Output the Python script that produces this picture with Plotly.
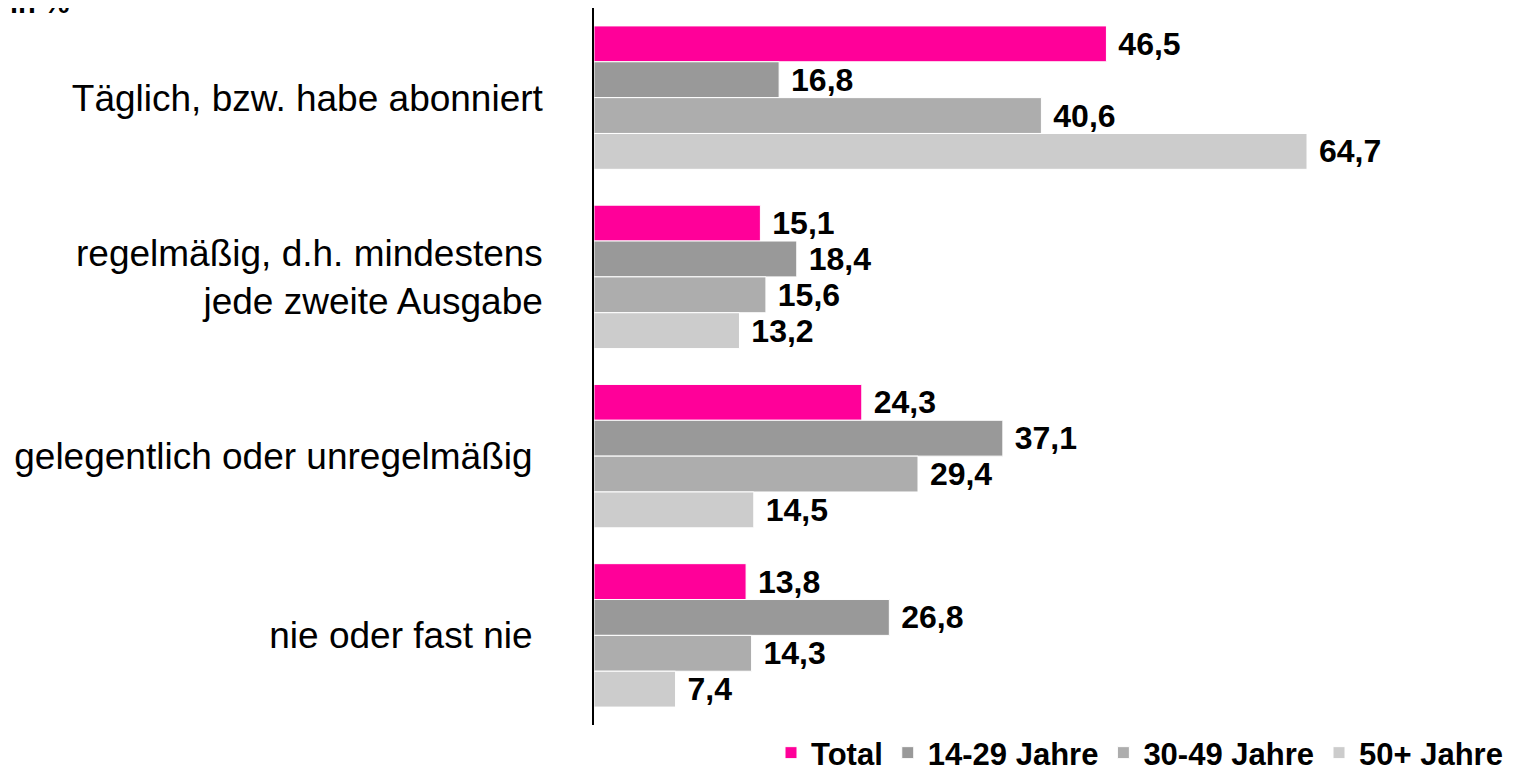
import plotly.graph_objects as go

categories = [
    "Täglich, bzw. habe abonniert",
    "regelmäßig, d.h. mindestens<br>jede zweite Ausgabe",
    "gelegentlich oder unregelmäßig\u00a0",
    "nie oder fast nie\u00a0",
]
series_names = ["Total", "14-29 Jahre", "30-49 Jahre", "50+ Jahre"]
total = [46.5, 15.1, 24.3, 13.8]
age_14_29 = [16.8, 18.4, 37.1, 26.8]
age_30_49 = [40.6, 15.6, 29.4, 14.3]
age_50_plus = [64.7, 13.2, 14.5, 7.4]
colors = ["#FF0099", "#999999", "#ADADAD", "#CCCCCC"]

# page body has an 8px margin; figure is sized to fit the window
W, H = 1511, 763
L, R, T, B = 586, 19, 0, 46
plot_w = W - L - R
plot_h = H - T - B
xmax = 64.7 * plot_w / (1307 - 594)

fig = go.Figure()
for name, vals, col in zip(series_names, [total, age_14_29, age_30_49, age_50_plus], colors):
    fig.add_trace(go.Bar(
        y=categories, x=vals, name=name, orientation="h",
        marker=dict(color=col, line=dict(color="white", width=1)),
        text=["\u00a0" + f"{v:.1f}".replace(".", ",") for v in vals],
        textposition="outside", cliponaxis=False, constraintext="none",
        textfont=dict(family="Liberation Sans, Arial", size=32, color="black", weight="bold"),
    ))

fig.update_layout(
    width=W, height=H,
    margin=dict(l=L, r=R, t=T, b=B, autoexpand=False),
    plot_bgcolor="white", paper_bgcolor="white",
    barmode="group", bargap=0.2, bargroupgap=0.0,
    font=dict(family="Liberation Sans, Arial", color="black"),
    showlegend=True,
    legend=dict(
        orientation="h", xref="container", yref="container",
        x=763 / W, xanchor="left", y=1 - 745 / H, yanchor="middle",
        font=dict(size=31, weight="bold", color="black"),
        traceorder="normal",
    ),
    xaxis=dict(range=[0, xmax], visible=False, showgrid=False, automargin=False),
    yaxis=dict(
        autorange="reversed", showline=True, linecolor="black", linewidth=1.5,
        showgrid=False, ticks="", ticklabelstandoff=42, automargin=False,
        tickfont=dict(size=37, color="black"),
    ),
)
fig.add_annotation(
    text="<b>in %</b>", xref="paper", yref="paper",
    x=(0 - L) / plot_w, xanchor="left", y=1 - 13 / plot_h, yanchor="bottom",
    showarrow=False, font=dict(size=29, color="black"),
)
fig.write_html("out.html")
